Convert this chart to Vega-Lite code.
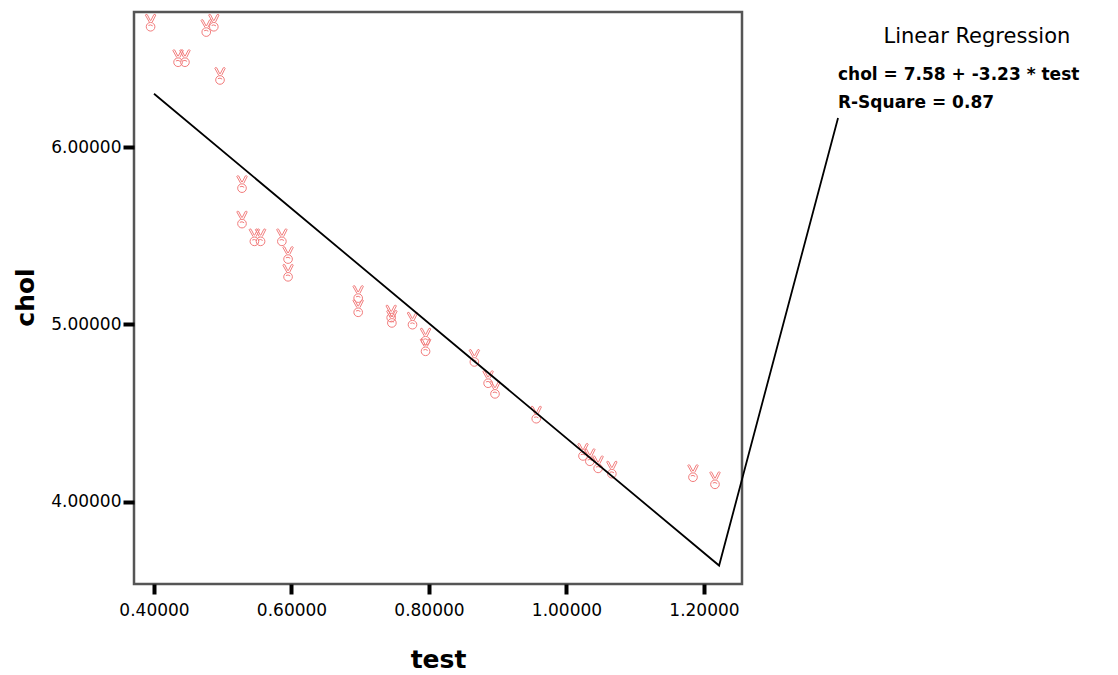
{
  "$schema": "https://vega.github.io/schema/vega-lite/v6.json",
  "width": 608,
  "height": 572,
  "autosize": {"type": "none"},
  "padding": {"left": 134, "top": 12, "right": 376, "bottom": 91},
  "background": "white",
  "config": {
    "view": {"stroke": "#555555", "strokeWidth": 2.5},
    "axis": {
      "domain": false,
      "grid": false,
      "tickColor": "black",
      "tickWidth": 4,
      "labelFont": "DejaVu Sans",
      "labelFontSize": 17,
      "labelColor": "black",
      "labelFlush": false,
      "labelOverlap": false,
      "titleFont": "DejaVu Sans",
      "titleFontWeight": "bold",
      "titleFontSize": 25,
      "titleColor": "black"
    }
  },
  "datasets": {
    "points": [
      {"test": 0.395, "chol": 6.70},
      {"test": 0.476, "chol": 6.67},
      {"test": 0.487, "chol": 6.70},
      {"test": 0.435, "chol": 6.50},
      {"test": 0.445, "chol": 6.50},
      {"test": 0.496, "chol": 6.40},
      {"test": 0.528, "chol": 5.79},
      {"test": 0.528, "chol": 5.59},
      {"test": 0.546, "chol": 5.49},
      {"test": 0.555, "chol": 5.49},
      {"test": 0.586, "chol": 5.49},
      {"test": 0.595, "chol": 5.39},
      {"test": 0.595, "chol": 5.29},
      {"test": 0.697, "chol": 5.17},
      {"test": 0.697, "chol": 5.09},
      {"test": 0.745, "chol": 5.06},
      {"test": 0.746, "chol": 5.03},
      {"test": 0.776, "chol": 5.02},
      {"test": 0.795, "chol": 4.93},
      {"test": 0.795, "chol": 4.87},
      {"test": 0.866, "chol": 4.81},
      {"test": 0.886, "chol": 4.69},
      {"test": 0.896, "chol": 4.63},
      {"test": 0.956, "chol": 4.49},
      {"test": 1.024, "chol": 4.28},
      {"test": 1.034, "chol": 4.25},
      {"test": 1.046, "chol": 4.21},
      {"test": 1.066, "chol": 4.18},
      {"test": 1.184, "chol": 4.16},
      {"test": 1.216, "chol": 4.12}
    ],
    "fit": [
      {"test": 0.400, "chol": 6.30, "order": 1},
      {"test": 1.222, "chol": 3.64, "order": 2},
      {"test": 1.395, "chol": 6.164, "order": 3}
    ]
  },
  "layer": [
    {
      "data": {"name": "points"},
      "mark": {
        "type": "point",
        "shape": "M-0.15,-0.1 L-0.6,-0.9 Q-0.55,-1.05 -0.38,-0.95 L-0.02,-0.25 M0.02,-0.25 L0.38,-0.95 Q0.55,-1.05 0.6,-0.9 L0.2,-0.1 M-0.5,0.45 A0.5,0.5 0 1,0 0.5,0.45 A0.5,0.5 0 1,0 -0.5,0.45 M-0.25,0.3 Q0,0.15 0.25,0.35",
        "filled": false,
        "stroke": "#f27c7c",
        "strokeWidth": 1,
        "opacity": 1,
        "size": 300,
        "clip": false
      },
      "encoding": {
        "x": {
          "field": "test", "type": "quantitative",
          "scale": {"domain": [0.3709, 1.2553], "nice": false, "zero": false},
          "axis": {"title": "test", "values": [0.4, 0.6, 0.8, 1.0, 1.2], "format": ".5f", "tickSize": 10, "labelPadding": 8, "titleY": 75, "titleBaseline": "middle"}
        },
        "y": {
          "field": "chol", "type": "quantitative",
          "scale": {"domain": [3.536, 6.7612], "nice": false, "zero": false},
          "axis": {"title": "chol", "values": [4, 5, 6], "format": ".5f", "tickSize": 11, "labelPadding": 2, "titleAngle": -90, "titleX": -109, "titleY": 285, "titleAlign": "center", "titleBaseline": "middle"}
        }
      }
    },
    {
      "data": {"name": "fit"},
      "mark": {"type": "line", "color": "black", "strokeWidth": 1.8, "clip": false},
      "encoding": {
        "x": {"field": "test", "type": "quantitative"},
        "y": {"field": "chol", "type": "quantitative"},
        "order": {"field": "order", "type": "quantitative"}
      }
    },
    {
      "data": {"values": [{}]},
      "mark": {"type": "text", "text": "Linear Regression", "font": "DejaVu Sans", "fontSize": 21, "color": "black", "align": "center", "baseline": "middle", "clip": false},
      "encoding": {"x": {"datum": 1.597}, "y": {"datum": 6.62}}
    },
    {
      "data": {"values": [{}]},
      "mark": {"type": "text", "text": "chol = 7.58 + -3.23 * test", "font": "DejaVu Sans", "fontSize": 17, "fontWeight": "bold", "color": "black", "align": "left", "baseline": "middle", "clip": false},
      "encoding": {"x": {"datum": 1.3949}, "y": {"datum": 6.406}}
    },
    {
      "data": {"values": [{}]},
      "mark": {"type": "text", "text": "R-Square = 0.87", "font": "DejaVu Sans", "fontSize": 17, "fontWeight": "bold", "color": "black", "align": "left", "baseline": "middle", "clip": false},
      "encoding": {"x": {"datum": 1.3949}, "y": {"datum": 6.248}}
    }
  ]
}
